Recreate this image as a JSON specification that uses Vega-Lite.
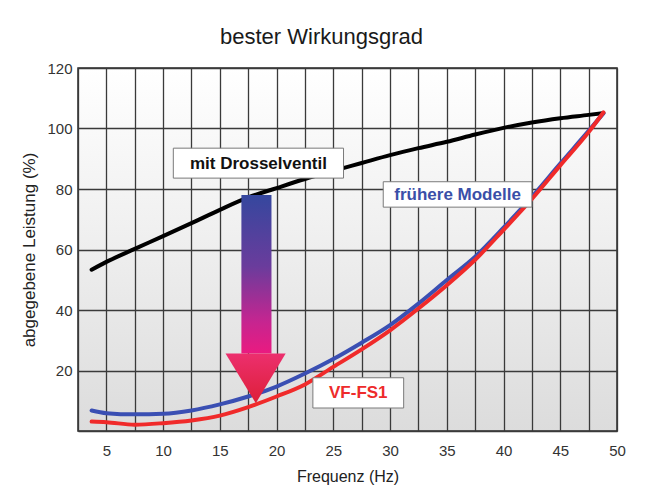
{
  "$schema": "https://vega.github.io/schema/vega-lite/v6.json",
  "autosize": {"type": "none"},
  "padding": {"left": 78, "top": 68, "right": 37, "bottom": 65},
  "width": 539,
  "height": 363,
  "background": "white",
  "title": {
    "text": "bester Wirkungsgrad",
    "font": "Liberation Sans",
    "fontSize": 22,
    "fontWeight": "normal",
    "color": "#1a1a1a",
    "dx": -26,
    "offset": 12
  },
  "config": {
    "view": {
      "stroke": "#2a2a2a",
      "strokeWidth": 1.5,
      "fill": {
        "gradient": "linear", "x1": 0, "y1": 0, "x2": 0, "y2": 1,
        "stops": [
          {"offset": 0, "color": "#ffffff"},
          {"offset": 0.5, "color": "#eeeeee"},
          {"offset": 1, "color": "#dcdcdc"}
        ]
      }
    },
    "axis": {
      "gridColor": "#3a3a3a",
      "gridWidth": 1.3,
      "gridOpacity": 1,
      "domain": false,
      "ticks": false,
      "labelFont": "Liberation Sans",
      "labelFontSize": 15,
      "labelColor": "#333333",
      "titleFont": "Liberation Sans",
      "titleFontSize": 16,
      "titleFontWeight": "normal",
      "titleColor": "#222222"
    }
  },
  "datasets": {
    "kurven": [
      {"Modell": "mit Drosselventil", "f": 3.7, "p": 53.3},
      {"Modell": "mit Drosselventil", "f": 5, "p": 55.9},
      {"Modell": "mit Drosselventil", "f": 7.5, "p": 60.2},
      {"Modell": "mit Drosselventil", "f": 10, "p": 64.4},
      {"Modell": "mit Drosselventil", "f": 12.5, "p": 68.7},
      {"Modell": "mit Drosselventil", "f": 15, "p": 73.1},
      {"Modell": "mit Drosselventil", "f": 17.5, "p": 77.2},
      {"Modell": "mit Drosselventil", "f": 20, "p": 80.3},
      {"Modell": "mit Drosselventil", "f": 22.5, "p": 83.3},
      {"Modell": "mit Drosselventil", "f": 25, "p": 86.0},
      {"Modell": "mit Drosselventil", "f": 27.5, "p": 88.6},
      {"Modell": "mit Drosselventil", "f": 30, "p": 91.2},
      {"Modell": "mit Drosselventil", "f": 32.5, "p": 93.5},
      {"Modell": "mit Drosselventil", "f": 35, "p": 95.6},
      {"Modell": "mit Drosselventil", "f": 37.5, "p": 98.0},
      {"Modell": "mit Drosselventil", "f": 40, "p": 100.2},
      {"Modell": "mit Drosselventil", "f": 42.5, "p": 102.0},
      {"Modell": "mit Drosselventil", "f": 45, "p": 103.4},
      {"Modell": "mit Drosselventil", "f": 47.5, "p": 104.5},
      {"Modell": "mit Drosselventil", "f": 48.8, "p": 105.1},
      {"Modell": "frühere Modelle", "f": 3.7, "p": 6.8},
      {"Modell": "frühere Modelle", "f": 5, "p": 5.9},
      {"Modell": "frühere Modelle", "f": 7.5, "p": 5.5},
      {"Modell": "frühere Modelle", "f": 10, "p": 5.7},
      {"Modell": "frühere Modelle", "f": 12.5, "p": 6.8},
      {"Modell": "frühere Modelle", "f": 15, "p": 8.8},
      {"Modell": "frühere Modelle", "f": 17.5, "p": 11.4},
      {"Modell": "frühere Modelle", "f": 20, "p": 14.7},
      {"Modell": "frühere Modelle", "f": 22.5, "p": 19.0},
      {"Modell": "frühere Modelle", "f": 25, "p": 23.8},
      {"Modell": "frühere Modelle", "f": 27.5, "p": 29.2},
      {"Modell": "frühere Modelle", "f": 30, "p": 35.0},
      {"Modell": "frühere Modelle", "f": 32.5, "p": 42.1},
      {"Modell": "frühere Modelle", "f": 35, "p": 49.9},
      {"Modell": "frühere Modelle", "f": 37.5, "p": 57.6},
      {"Modell": "frühere Modelle", "f": 40, "p": 67.2},
      {"Modell": "frühere Modelle", "f": 42.5, "p": 77.4},
      {"Modell": "frühere Modelle", "f": 45, "p": 88.4},
      {"Modell": "frühere Modelle", "f": 47.5, "p": 99.2},
      {"Modell": "frühere Modelle", "f": 48.8, "p": 105.0},
      {"Modell": "VF-FS1", "f": 3.7, "p": 3.1},
      {"Modell": "VF-FS1", "f": 5, "p": 2.9},
      {"Modell": "VF-FS1", "f": 7.5, "p": 2.1},
      {"Modell": "VF-FS1", "f": 10, "p": 2.6},
      {"Modell": "VF-FS1", "f": 12.5, "p": 3.5},
      {"Modell": "VF-FS1", "f": 15, "p": 5.1},
      {"Modell": "VF-FS1", "f": 17.5, "p": 7.9},
      {"Modell": "VF-FS1", "f": 20, "p": 11.4},
      {"Modell": "VF-FS1", "f": 22.5, "p": 15.4},
      {"Modell": "VF-FS1", "f": 25, "p": 21.2},
      {"Modell": "VF-FS1", "f": 27.5, "p": 27.0},
      {"Modell": "VF-FS1", "f": 30, "p": 33.3},
      {"Modell": "VF-FS1", "f": 32.5, "p": 40.5},
      {"Modell": "VF-FS1", "f": 35, "p": 48.2},
      {"Modell": "VF-FS1", "f": 37.5, "p": 56.6},
      {"Modell": "VF-FS1", "f": 40, "p": 66.5},
      {"Modell": "VF-FS1", "f": 42.5, "p": 76.7},
      {"Modell": "VF-FS1", "f": 45, "p": 87.8},
      {"Modell": "VF-FS1", "f": 47.5, "p": 98.8},
      {"Modell": "VF-FS1", "f": 48.8, "p": 105.3}
    ],
    "schaft": [
      {"f": 16.9, "f2": 19.55, "p": 78.0, "p2": 25.6}
    ],
    "spitze": [
      {"f": 15.5, "oben": 25.6, "unten": 25.6},
      {"f": 18.17, "oben": 25.6, "unten": 9.2},
      {"f": 20.8, "oben": 25.6, "unten": 25.6}
    ],
    "kaesten": [
      {"label": "mit Drosselventil", "f": 10.9, "f2": 25.9, "p": 93.5, "p2": 83.6, "fm": 18.4, "pm": 88.4},
      {"label": "frühere Modelle", "f": 29.4, "f2": 42.5, "p": 82.4, "p2": 74.0, "fm": 35.95, "pm": 78.1},
      {"label": "VF-FS1", "f": 23.2, "f2": 31.2, "p": 17.6, "p2": 7.6, "fm": 27.2, "pm": 12.5}
    ]
  },
  "layer": [
    {
      "data": {"name": "kurven"},
      "transform": [{"filter": "datum.Modell === 'mit Drosselventil'"}],
      "mark": {"type": "line", "color": "#000000", "strokeWidth": 4, "strokeCap": "round", "interpolate": "monotone"},
      "encoding": {
        "x": {
          "field": "f", "type": "quantitative",
          "scale": {"domain": [2.5, 50], "nice": false, "zero": false},
          "axis": {
            "title": "Frequenz (Hz)",
            "values": [2.5, 5, 7.5, 10, 12.5, 15, 17.5, 20, 22.5, 25, 27.5, 30, 32.5, 35, 37.5, 40, 42.5, 45, 47.5, 50],
            "tickCount": 40,
            "labelExpr": "datum.value % 5 === 0 ? datum.label : ''",
            "labelFlush": false,
            "labelOverlap": false,
            "labelPadding": 12,
            "titlePadding": 10
          }
        },
        "y": {
          "field": "p", "type": "quantitative",
          "scale": {"domain": [0, 120], "nice": false},
          "axis": {
            "title": "abgegebene Leistung (%)",
            "titleFontSize": 17,
            "values": [0, 20, 40, 60, 80, 100, 120],
            "labelExpr": "datum.value === 0 ? '' : datum.label",
            "labelPadding": 6,
            "titlePadding": 8
          }
        }
      }
    },
    {
      "data": {"name": "kurven"},
      "transform": [{"filter": "datum.Modell === 'frühere Modelle'"}],
      "mark": {"type": "line", "color": "#3a4fb3", "strokeWidth": 4, "strokeCap": "round", "interpolate": "monotone"},
      "encoding": {
        "x": {"field": "f", "type": "quantitative"},
        "y": {"field": "p", "type": "quantitative"}
      }
    },
    {
      "data": {"name": "schaft"},
      "mark": {
        "type": "rect",
        "color": {
          "gradient": "linear", "x1": 0, "y1": 0, "x2": 0, "y2": 1,
          "stops": [
            {"offset": 0, "color": "#35479e"},
            {"offset": 0.45, "color": "#6a3c9c"},
            {"offset": 0.8, "color": "#c62590"},
            {"offset": 1, "color": "#ea1a80"}
          ]
        }
      },
      "encoding": {
        "x": {"field": "f", "type": "quantitative"},
        "x2": {"field": "f2"},
        "y": {"field": "p", "type": "quantitative"},
        "y2": {"field": "p2"}
      }
    },
    {
      "data": {"name": "spitze"},
      "mark": {
        "type": "area",
        "color": {
          "gradient": "linear", "x1": 0, "y1": 0, "x2": 0, "y2": 1,
          "stops": [
            {"offset": 0, "color": "#ec2f6e"},
            {"offset": 1, "color": "#dd1f38"}
          ]
        }
      },
      "encoding": {
        "x": {"field": "f", "type": "quantitative"},
        "y": {"field": "oben", "type": "quantitative"},
        "y2": {"field": "unten"}
      }
    },
    {
      "data": {"name": "kurven"},
      "transform": [{"filter": "datum.Modell === 'VF-FS1'"}],
      "mark": {"type": "line", "color": "#f02a2a", "strokeWidth": 4, "strokeCap": "round", "interpolate": "monotone"},
      "encoding": {
        "x": {"field": "f", "type": "quantitative"},
        "y": {"field": "p", "type": "quantitative"}
      }
    },
    {
      "data": {"name": "kaesten"},
      "mark": {"type": "rect", "fill": "#ffffff", "stroke": "#7a7a7a", "strokeWidth": 1},
      "encoding": {
        "x": {"field": "f", "type": "quantitative"},
        "x2": {"field": "f2"},
        "y": {"field": "p", "type": "quantitative"},
        "y2": {"field": "p2"}
      }
    },
    {
      "data": {"name": "kaesten"},
      "mark": {"type": "text", "font": "Liberation Sans", "fontSize": 17, "fontWeight": "bold", "align": "center", "baseline": "middle"},
      "encoding": {
        "x": {"field": "fm", "type": "quantitative"},
        "y": {"field": "pm", "type": "quantitative"},
        "text": {"field": "label"},
        "color": {
          "field": "label", "type": "nominal", "legend": null,
          "scale": {"domain": ["mit Drosselventil", "frühere Modelle", "VF-FS1"], "range": ["#111111", "#3a4fa8", "#ee2b2b"]}
        }
      }
    }
  ]
}
